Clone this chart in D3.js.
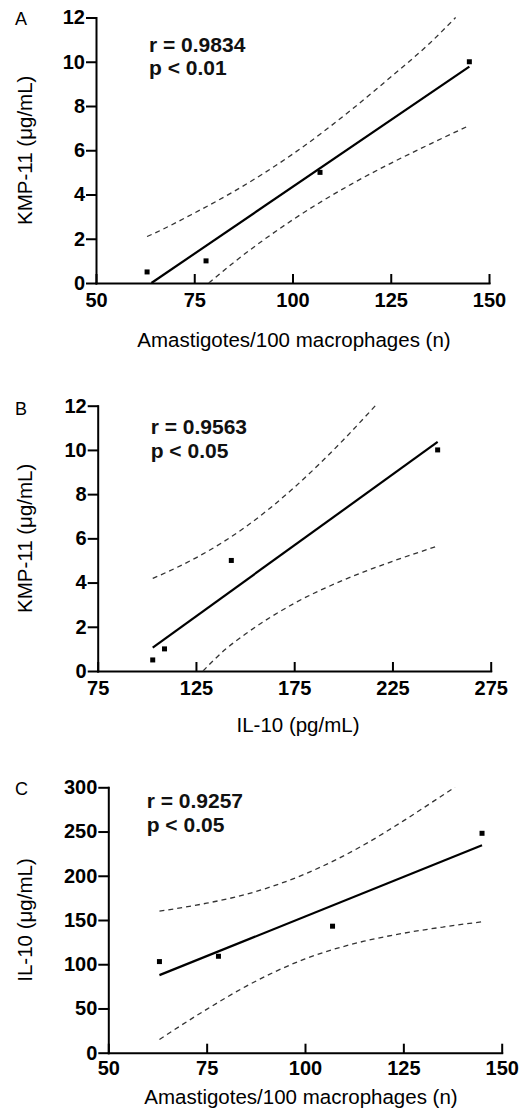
<!DOCTYPE html>
<html lang="en">
<head>
  <meta charset="UTF-8">
  <title>KMP-11, IL-10 and amastigote correlations</title>
  <script src="https://d3js.org/d3.v7.min.js"></script>
  <style>
    body { margin: 0; background: #fff; }
    svg { display: block; }
    .axis .domain, .axis line { stroke: #000; stroke-width: 2; stroke-linecap: square; }
    .axis text { font: bold 20px "Liberation Sans", Arial, sans-serif; fill: #000; }
    .title { font: 20.5px "Liberation Sans", Arial, sans-serif; fill: #000; }
    .letter { font: 18px "Liberation Sans", Arial, sans-serif; fill: #000; }
    .stat { font: bold 21px "Liberation Sans", Arial, sans-serif; fill: #111; }
  </style>
</head>
<body>
  <svg width="528" height="1119"></svg>

  <script>
    // measured values
    const amastigotes = [63, 78, 107, 145];
    const kmp11 = [0.5, 1, 5, 10];
    const il10 = [103, 109, 143, 248];

    // A: KMP-11 vs amastigotes
    const xTicksA = [50, 75, 100, 125, 150];
    const yTicksA = [0, 2, 4, 6, 8, 10, 12];
    const fitA = [[64.1, 0], [145, 9.78]];
    const upperA = [[63, 2.1], [65, 2.26], [75, 3.16], [85, 4.13], [100, 5.82], [115, 7.83], [125, 9.31], [135, 10.85], [141.5, 12]];
    const lowerA = [[78.7, 0], [85, 0.92], [100, 2.85], [115, 4.47], [125, 5.41], [135, 6.28], [145, 7.12]];

    // B: KMP-11 vs IL-10
    const xTicksB = [75, 125, 175, 225, 275];
    const yTicksB = [0, 2, 4, 6, 8, 10, 12];
    const fitB = [[103, 1.06], [248, 10.36]];
    const upperB = [[103, 4.19], [115, 4.67], [125, 5.12], [150, 6.5], [175, 8.3], [200, 10.45], [216.3, 12]];
    const lowerB = [[128.6, 0], [140, 0.98], [150, 1.66], [175, 3.06], [200, 4.11], [225, 4.96], [248, 5.65]];

    // C: IL-10 vs amastigotes
    const xTicksC = [50, 75, 100, 125, 150];
    const yTicksC = [0, 50, 100, 150, 200, 250, 300];
    const fitC = [[63, 87.7], [145, 234.4]];
    const upperC = [[63, 160], [75, 169], [85, 179], [100, 202], [115, 235], [125, 262], [135, 291], [138.1, 300]];
    const lowerC = [[63, 15], [75, 49], [85, 75], [100, 106], [115, 126], [125, 135], [135, 142], [145, 148]];

    const panels = [
      { letter: "A", xs: amastigotes, ys: kmp11, xTicks: xTicksA, yTicks: yTicksA, fit: fitA, upper: upperA, lower: lowerA,
        xTitle: "Amastigotes/100 macrophages (n)", yTitle: "KMP-11 (\u03bcg/mL)", r: "r = 0.9834", p: "p < 0.01",
        left: 96, right: 489, top: 17.5, bottom: 283, statX: 149, statY: 51.7, xTitleX: 294, xTitleY: 347, letterY: 25, xPad: 10 },
      { letter: "B", xs: il10, ys: kmp11, xTicks: xTicksB, yTicks: yTicksB, fit: fitB, upper: upperB, lower: lowerB,
        xTitle: "IL-10 (pg/mL)", yTitle: "KMP-11 (\u03bcg/mL)", r: "r = 0.9563", p: "p < 0.05",
        left: 97.7, right: 490.7, top: 405.7, bottom: 671, statX: 150.7, statY: 434.3, xTitleX: 298, xTitleY: 732, letterY: 415, xPad: 10 },
      { letter: "C", xs: amastigotes, ys: il10, xTicks: xTicksC, yTicks: yTicksC, fit: fitC, upper: upperC, lower: lowerC,
        xTitle: "Amastigotes/100 macrophages (n)", yTitle: "IL-10 (\u03bcg/mL)", r: "r = 0.9257", p: "p < 0.05",
        left: 108.3, right: 501.7, top: 787.3, bottom: 1052.7, statX: 146.7, statY: 808.3, xTitleX: 301, xTitleY: 1104, letterY: 795, xPad: 8 }
    ];

    const svg = d3.select("svg");

    function drawPanel(p) {
      const x = d3.scaleLinear().domain(d3.extent(p.xTicks)).range([p.left, p.right]);
      const y = d3.scaleLinear().domain(d3.extent(p.yTicks)).range([p.bottom, p.top]);
      const g = svg.append("g");

      // axes: x ticks point inward, y ticks outward
      g.append("g")
        .attr("class", "axis")
        .attr("transform", `translate(0,${p.bottom})`)
        .call(d3.axisBottom(x).tickValues(p.xTicks).tickSizeInner(-8).tickSizeOuter(0).tickPadding(p.xPad));

      g.append("g")
        .attr("class", "axis")
        .attr("transform", `translate(${p.left},0)`)
        .call(d3.axisLeft(y).tickValues(p.yTicks).tickSizeInner(9).tickSizeOuter(0).tickPadding(2));

      const line = d3.line().x(d => x(d[0])).y(d => y(d[1]));
      const curve = d3.line().x(d => x(d[0])).y(d => y(d[1])).curve(d3.curveMonotoneX);

      [p.upper, p.lower].forEach(band => {
        g.append("path")
          .datum(band)
          .attr("fill", "none")
          .attr("stroke", "#333")
          .attr("stroke-width", 1.3)
          .attr("stroke-dasharray", "5,4")
          .attr("d", curve);
      });

      g.append("path")
        .datum(p.fit)
        .attr("fill", "none")
        .attr("stroke", "#000")
        .attr("stroke-width", 2.2)
        .attr("d", line);

      g.selectAll(".pt")
        .data(d3.zip(p.xs, p.ys))
        .enter().append("rect")
        .attr("class", "pt")
        .attr("x", d => x(d[0]) - 2.5)
        .attr("y", d => y(d[1]) - 2.5)
        .attr("width", 5)
        .attr("height", 5)
        .attr("fill", "#000");

      g.append("text").attr("class", "stat").attr("x", p.statX).attr("y", p.statY).text(p.r);
      g.append("text").attr("class", "stat").attr("x", p.statX).attr("y", p.statY + 23.5).text(p.p);

      g.append("text").attr("class", "letter").attr("x", 15).attr("y", p.letterY).text(p.letter);

      g.append("text")
        .attr("class", "title")
        .attr("text-anchor", "middle")
        .attr("x", p.xTitleX)
        .attr("y", p.xTitleY)
        .text(p.xTitle);

      g.append("text")
        .attr("class", "title")
        .attr("text-anchor", "middle")
        .attr("transform", `translate(31.5,${(p.top + p.bottom) / 2}) rotate(-90)`)
        .text(p.yTitle);
    }

    panels.forEach(drawPanel);
  </script>
</body>
</html>
